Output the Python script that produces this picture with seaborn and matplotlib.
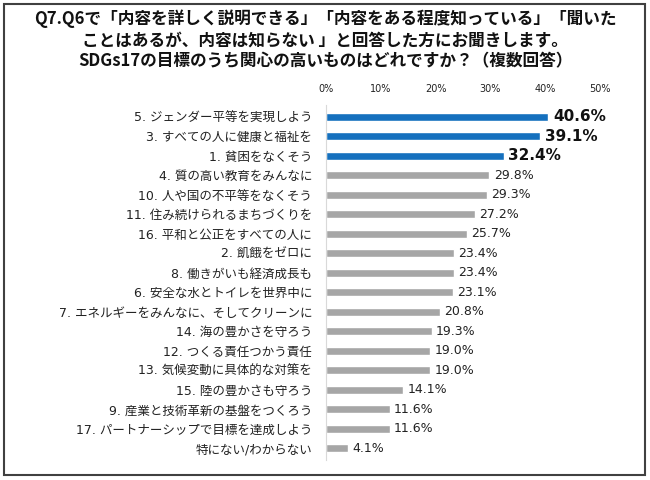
import matplotlib
matplotlib.use("Agg")
import matplotlib.pyplot as plt
import seaborn as sns
import pandas as pd
from matplotlib.patches import Rectangle

categories = [
    "5. ジェンダー平等を実現しよう",
    "3. すべての人に健康と福祉を",
    "1. 貧困をなくそう",
    "4. 質の高い教育をみんなに",
    "10. 人や国の不平等をなくそう",
    "11. 住み続けられるまちづくりを",
    "16. 平和と公正をすべての人に",
    "2. 飢餓をゼロに",
    "8. 働きがいも経済成長も",
    "6. 安全な水とトイレを世界中に",
    "7. エネルギーをみんなに、そしてクリーンに",
    "14. 海の豊かさを守ろう",
    "12. つくる責任つかう責任",
    "13. 気候変動に具体的な対策を",
    "15. 陸の豊かさも守ろう",
    "9. 産業と技術革新の基盤をつくろう",
    "17. パートナーシップで目標を達成しよう",
    "特にない/わからない",
]
values = [40.6, 39.1, 32.4, 29.8, 29.3, 27.2, 25.7, 23.4, 23.4, 23.1,
          20.8, 19.3, 19.0, 19.0, 14.1, 11.6, 11.6, 4.1]
highlight = [True, True, True] + [False] * 15
tick_values = [0, 10, 20, 30, 40, 50]
tick_labels = ["0%", "10%", "20%", "30%", "40%", "50%"]
title = ("Q7.Q6で「内容を詳しく説明できる」「内容をある程度知っている」「聞いた\n"
         "ことはあるが、内容は知らない 」と回答した方にお聞きします。\n"
         "SDGs17の目標のうち関心の高いものはどれですか？（複数回答）")

sns.set_theme(style="white")
plt.rcParams["font.family"] = ["DejaVu Sans", "Noto Sans CJK JP"]

BLUE = "#1570BE"
GRAY = "#A6A6A6"

df = pd.DataFrame({"cat": categories, "val": values,
                   "grp": ["hi" if h else "lo" for h in highlight]})

fig = plt.figure(figsize=(6.5, 4.8), dpi=100)
ax = fig.add_axes([326 / 650, 1 - 460 / 480, 274 / 650, 355 / 480])

sns.barplot(data=df, x="val", y="cat", hue="grp", dodge=False,
            palette={"hi": BLUE, "lo": GRAY}, width=0.4, legend=False,
            ax=ax, orient="h", saturation=1)

ax.set_xlim(0, 50)
ax.set_ylim(len(categories) - 0.4, -0.6)
ax.xaxis.tick_top()
ax.set_xticks(tick_values)
ax.set_xticklabels(tick_labels, fontsize=7, color="#222222")
ax.tick_params(axis="x", length=0, pad=8)
ax.tick_params(axis="y", length=0, pad=10, labelsize=9, labelcolor="#222222")
ax.set_xlabel("")
ax.set_ylabel("")
for s in ["top", "right", "bottom"]:
    ax.spines[s].set_visible(False)
ax.spines["left"].set_color("#D9D9D9")
ax.spines["left"].set_linewidth(0.8)

for i, (v, h) in enumerate(zip(values, highlight)):
    if h:
        ax.text(v + 0.8, i, f"{v:.1f}%", va="center", ha="left",
                fontsize=11, fontweight="bold", color="#111111", clip_on=False)
    else:
        ax.text(v + 0.8, i, f"{v:.1f}%", va="center", ha="left",
                fontsize=9, color="#222222", clip_on=False)

fig.text(0.5, 1 - 40 / 480, title, ha="center", va="center", fontsize=12,
         fontweight="bold", color="#111111", linespacing=1.2,
         family=["Noto Sans CJK JP", "DejaVu Sans"])

fig.patches.append(Rectangle((4 / 650, 1 - 475 / 480), 641 / 650, 471 / 480,
                             transform=fig.transFigure, fill=False,
                             edgecolor="#404040", linewidth=1.5))

fig.savefig("out.png", dpi=100)
